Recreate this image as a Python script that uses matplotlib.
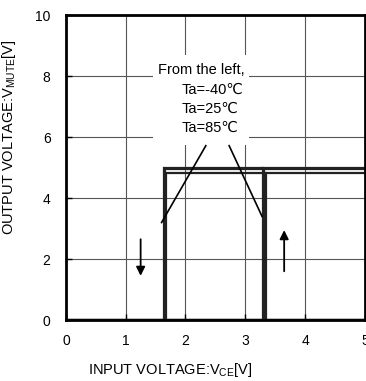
import matplotlib

matplotlib.use("Agg")
import matplotlib.pyplot as plt
from matplotlib.patches import Rectangle

plt.rcParams.update({
    "font.family": ["Liberation Sans", "DejaVu Sans"],
    "font.size": 10,
})

# Hysteresis loops for three temperatures: (falling Vce, rising Vce, high level)
temps = ["Ta=-40℃", "Ta=25℃", "Ta=85℃"]
v_fall = [1.64, 1.66, 1.68]    # output drops to 0 when Vce goes below this
v_rise = [3.30, 3.32, 3.34]    # output rises when Vce goes above this
v_high = [5.00, 4.96, 4.82]
x_max = 5.0

fig = plt.figure(figsize=(3.66, 3.81), dpi=100)
ax = fig.add_axes([0.180, 0.160, 0.817, 0.800])

for xf, xr, h in zip(v_fall, v_rise, v_high):
    ax.plot([0, x_max], [0, 0], color="#222222", lw=1.6, solid_capstyle="butt")
    ax.plot([xf, xf, x_max], [0, h, h], color="#222222", lw=1.6,
            solid_joinstyle="miter")
    ax.plot([xr, xr], [0, h], color="#222222", lw=1.6)

# white patch behind the label, leader lines
ax.add_patch(Rectangle((1.45, 5.75), 1.62, 2.95, facecolor="white",
                       edgecolor="none", zorder=3))
ax.text(2.27, 8.2, "From the left,", ha="center", va="center", fontsize=10.5,
        zorder=5)
ax.text(1.94, 6.92, "\n".join(temps), ha="left", va="center", fontsize=10.5,
        linespacing=1.45, zorder=5)
ax.plot([2.34, 1.60], [5.72, 3.2], color="black", lw=1.2, zorder=4)
ax.plot([2.73, 3.28], [5.72, 3.4], color="black", lw=1.2, zorder=4)

# direction arrows
ax.annotate("", xy=(1.25, 1.45), xytext=(1.25, 2.65),
            arrowprops=dict(arrowstyle="-|>", color="black", lw=1.3,
                            mutation_scale=13, shrinkA=0, shrinkB=0))
ax.annotate("", xy=(3.65, 2.95), xytext=(3.65, 1.6),
            arrowprops=dict(arrowstyle="-|>", color="black", lw=1.3,
                            mutation_scale=13, shrinkA=0, shrinkB=0))

ax.set_xlim(0, 5)
ax.set_ylim(0, 10)
ax.set_xticks(range(0, 6))
ax.set_yticks(range(0, 11, 2))
ax.grid(True, color="#555555", lw=0.8)
ax.set_axisbelow(True)
ax.tick_params(direction="in", length=4, width=1, labelsize=10)
ax.tick_params(axis="x", pad=10)
ax.tick_params(axis="y", pad=11)
for s in ax.spines.values():
    s.set_linewidth(2.0)

ax.set_xlabel("INPUT VOLTAGE:V$_{\\mathregular{CE}}$[V]", fontsize=10.5)
ax.set_ylabel("OUTPUT VOLTAGE:V$_{\\mathregular{MUTE}}$[V]", fontsize=10.5)
ax.xaxis.set_label_coords(0.35, -0.135)
ax.yaxis.set_label_coords(-0.16, 0.6)

fig.savefig("out.png", dpi=100)
